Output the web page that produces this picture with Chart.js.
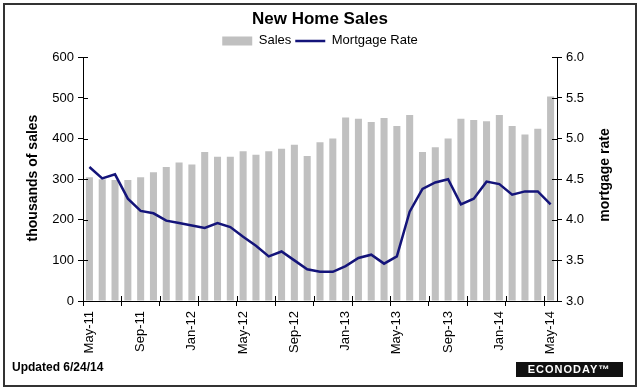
<!DOCTYPE html>
<html>
<head>
<meta charset="utf-8">
<script src="https://cdn.jsdelivr.net/npm/chart.js"></script>
<style>
  html, body { margin: 0; padding: 0; background: #fff; }
</style>
</head>
<body>
<canvas id="myChart" width="640" height="390"></canvas>
<script>
    // 월 라벨 (May-11 ~ May-14)
    const months = ['May-11','Jun-11','Jul-11','Aug-11','Sep-11','Oct-11','Nov-11','Dec-11',
                    'Jan-12','Feb-12','Mar-12','Apr-12','May-12','Jun-12','Jul-12','Aug-12','Sep-12','Oct-12','Nov-12','Dec-12',
                    'Jan-13','Feb-13','Mar-13','Apr-13','May-13','Jun-13','Jul-13','Aug-13','Sep-13','Oct-13','Nov-13','Dec-13',
                    'Jan-14','Feb-14','Mar-14','Apr-14','May-14'];

    // 신규 주택 판매 (천 단위)
    const sales = [305,300,298,298,305,317,330,341,336,367,
                   355,355,369,360,369,375,385,357,391,400,
                   452,449,441,451,431,458,367,379,400,449,
                   446,443,458,431,410,424,504];

    // 모기지 금리
    const rates = [4.65,4.51,4.56,4.26,4.11,4.08,3.99,3.96,3.93,3.90,
                   3.96,3.91,3.79,3.68,3.55,3.61,3.50,3.39,3.36,3.36,
                   3.43,3.53,3.57,3.46,3.55,4.10,4.38,4.46,4.50,4.19,
                   4.26,4.47,4.44,4.31,4.35,4.35,4.19];

    const salesTicks = [0,100,200,300,400,500,600];
    const rateTicks = [3.0,3.5,4.0,4.5,5.0,5.5,6.0];

    const FONT = 'Liberation Sans, Arial, sans-serif';

    // 테두리, 축 제목, 하단 문구 그리기
    const extras = {
        id: 'extras',
        afterDraw(chart) {
            const ctx = chart.ctx;
            const area = chart.chartArea;
            const x = chart.scales.x;
            ctx.save();

            // 축을 가로지르는 눈금 (안쪽 부분)
            ctx.strokeStyle = '#000';
            ctx.lineWidth = 1;
            ctx.beginPath();
            chart.scales.y.ticks.forEach(function (t, i) {
                const py = Math.round(chart.scales.y.getPixelForTick(i)) + 0.5;
                ctx.moveTo(area.left, py); ctx.lineTo(area.left + 5, py);
            });
            chart.scales.y1.ticks.forEach(function (t, i) {
                const py = Math.round(chart.scales.y1.getPixelForTick(i)) + 0.5;
                ctx.moveTo(area.right - 5, py); ctx.lineTo(area.right, py);
            });
            const half = (x.getPixelForValue(1) - x.getPixelForValue(0)) / 2;
            for (let i = 0; i < months.length; i += 3) {
                const px = Math.round(x.getPixelForValue(i) - half) + 0.5;
                ctx.moveTo(px, area.bottom - 5); ctx.lineTo(px, area.bottom);
            }
            ctx.stroke();

            // 축 제목
            ctx.fillStyle = '#000';
            ctx.font = 'bold 14px ' + FONT;
            ctx.textAlign = 'center';
            ctx.textBaseline = 'middle';
            ctx.save();
            ctx.translate(33, 178);
            ctx.rotate(-Math.PI / 2);
            ctx.fillText('thousands of sales', 0, 0);
            ctx.restore();
            ctx.save();
            ctx.translate(605, 175);
            ctx.rotate(-Math.PI / 2);
            ctx.fillText('mortgage rate', 0, 0);
            ctx.restore();

            // 업데이트 날짜
            ctx.textAlign = 'left';
            ctx.font = 'bold 12px ' + FONT;
            ctx.fillText('Updated 6/24/14', 12, 368);

            // 로고 박스
            ctx.fillStyle = '#111';
            ctx.fillRect(516, 362, 107, 15);
            ctx.fillStyle = '#fff';
            ctx.font = 'bold 11px ' + FONT;
            ctx.textAlign = 'center';
            ctx.letterSpacing = '1px';
            ctx.fillText('ECONODAY\u2122', 569, 370);

            // 바깥 테두리
            ctx.strokeStyle = '#333';
            ctx.lineWidth = 2;
            ctx.strokeRect(4, 4, 632, 382);
            ctx.restore();
        }
    };

    const chartInstance = new Chart(document.getElementById('myChart'), {
        type: 'bar',
        data: {
            labels: months,
            datasets: [{
                type: 'line',
                label: 'Mortgage Rate',
                data: rates,
                yAxisID: 'y1',
                borderColor: '#14147a',
                backgroundColor: '#14147a',
                borderWidth: 2.5,
                pointRadius: 0,
                pointStyle: 'line',
                tension: 0
            }, {
                type: 'bar',
                label: 'Sales',
                data: sales,
                yAxisID: 'y',
                backgroundColor: '#c0c0c0',
                borderWidth: 0,
                pointStyle: 'rect',
                categoryPercentage: 1,
                barPercentage: 0.55
            }]
        },
        options: {
            responsive: false,
            animation: false,
            layout: { padding: { top: 0, bottom: 29, left: 0, right: 0 } },
            plugins: {
                title: {
                    display: true,
                    text: 'New Home Sales',
                    color: '#000',
                    font: { family: FONT, size: 17, weight: 'bold' },
                    padding: { top: 9, bottom: 1 }
                },
                legend: {
                    display: true,
                    labels: {
                        color: '#000',
                        font: { family: FONT, size: 13 },
                        usePointStyle: true,
                        pointStyleWidth: 30,
                        boxHeight: 9,
                        padding: 4,
                        sort: function (a, b) { return b.datasetIndex - a.datasetIndex; }
                    }
                },
                tooltip: { enabled: false }
            },
            scales: {
                x: {
                    type: 'category',
                    offset: true,
                    afterFit: function (scale) { scale.height = 60; },
                    border: { color: '#000', width: 1 },
                    grid: {
                        offset: true,
                        drawOnChartArea: false,
                        tickLength: 5,
                        color: function (c) { return c.index % 3 === 0 ? '#000' : 'rgba(0,0,0,0)'; }
                    },
                    ticks: {
                        autoSkip: false,
                        maxRotation: 90,
                        minRotation: 90,
                        padding: 5,
                        color: '#000',
                        font: { family: FONT, size: 13 },
                        callback: function (v, i) { return i % 4 === 0 ? months[i] : ''; }
                    }
                },
                y: {
                    position: 'left',
                    min: 0,
                    max: 600,
                    afterFit: function (scale) { scale.width = 83; },
                    afterBuildTicks: function (scale) { scale.ticks = salesTicks.map(function (v) { return { value: v }; }); },
                    border: { color: '#000', width: 1 },
                    grid: { drawOnChartArea: false, tickLength: 5, color: '#000' },
                    ticks: { color: '#000', padding: 4, font: { family: FONT, size: 13 } }
                },
                y1: {
                    position: 'right',
                    min: 3,
                    max: 6,
                    afterFit: function (scale) { scale.width = 83; },
                    afterBuildTicks: function (scale) { scale.ticks = rateTicks.map(function (v) { return { value: v }; }); },
                    border: { color: '#000', width: 1 },
                    grid: { drawOnChartArea: false, tickLength: 5, color: '#000' },
                    ticks: {
                        color: '#000',
                        padding: 4,
                        font: { family: FONT, size: 13 },
                        callback: function (v) { return Number(v).toFixed(1); }
                    }
                }
            }
        },
        plugins: [extras]
    });
</script>
</body>
</html>
